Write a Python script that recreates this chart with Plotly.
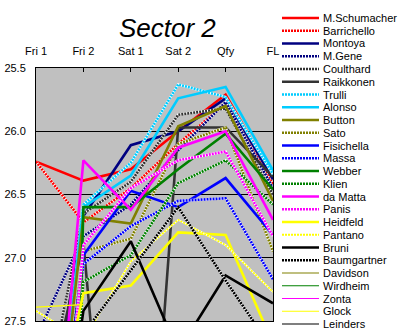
import plotly.graph_objects as go

sessions = ["Fri 1", "Fri 2", "Sat 1", "Sat 2", "Qfy", "FL"]
y_ticks = [25.5, 26.0, 26.5, 27.0, 27.5]

drivers = ["M.Schumacher", "Barrichello", "Montoya", "M.Gene", "Coulthard", "Raikkonen",
           "Trulli", "Alonso", "Button", "Sato", "Fisichella", "Massa", "Webber", "Klien",
           "da Matta", "Panis", "Heidfeld", "Pantano", "Bruni", "Baumgartner",
           "Davidson", "Wirdheim", "Zonta", "Glock", "Leinders"]

m_schumacher = [26.24, 26.39, 26.30, 26.00, 25.71, 26.36]
barrichello = [26.24, 26.72, 26.45, 26.10, 25.78, 26.42]
montoya = [29.0, 26.67, 26.11, 26.00, 25.74, 26.38]
m_gene = [27.63, 26.83, 26.58, 26.15, 25.77, 26.45]
coulthard = [28.5, 26.65, 26.40, 25.87, 25.82, 26.50]
raikkonen = [28.5, 26.88, 31.0, 25.97, 25.97, 26.36]
trulli = [30.0, 26.58, 26.25, 25.63, 25.73, 26.34]
alonso = [30.0, 26.60, 26.35, 25.74, 25.65, 26.31]
button = [30.0, 26.68, 26.73, 25.96, 25.80, 26.55]
sato = [30.0, 26.95, 26.85, 26.10, 25.97, 26.95]
fisichella = [30.0, 26.98, 26.47, 26.60, 26.37, 26.82]
massa = [30.0, 27.05, 26.75, 26.55, 26.53, 27.17]
webber = [40.0, 26.60, 26.60, 26.30, 26.02, 26.46]
klien = [32.0, 27.19, 26.98, 26.41, 26.23, 26.58]
da_matta = [30.3, 26.23, 26.62, 26.13, 26.00, 26.70]
panis = [31.0, 26.90, 26.45, 26.23, 26.16, 26.83]
heidfeld = [29.0, 27.28, 27.22, 26.80, 26.82, 27.68]
pantano = [27.42, 27.65, 27.03, 26.70, 26.90, 27.27]
bruni = [30.0, 27.42, 26.87, 27.74, 27.14, 27.36]
baumgartner = [30.0, 27.60, 27.10, 26.60, 27.18, 27.73]
davidson = [28.0, 28.0, None, None, None, None]
wirdheim = [28.0, 28.0, None, None, None, None]
zonta = [28.0, 28.0, None, None, None, None]
glock = [27.39, 27.37, None, None, None, None]
leinders = [28.0, 28.0, None, None, None, None]

series = [m_schumacher, barrichello, montoya, m_gene, coulthard, raikkonen, trulli, alonso,
          button, sato, fisichella, massa, webber, klien, da_matta, panis, heidfeld, pantano,
          bruni, baumgartner, davidson, wirdheim, zonta, glock, leinders]

# style: (color, kind) kind: 's' thick solid, 'd' thick dotted, 't' thin solid, 'td' thin dotted
styles = [("#FF0000", "s"), ("#FF0000", "d"), ("#000080", "s"), ("#000080", "d"),
          ("#333333", "d"), ("#333333", "s"), ("#00CCFF", "d"), ("#00CCFF", "s"),
          ("#808000", "s"), ("#808000", "d"), ("#0000FF", "s"), ("#0000FF", "d"),
          ("#008000", "s"), ("#008000", "d"), ("#FF00FF", "s"), ("#FF00FF", "d"),
          ("#FFFF00", "s"), ("#FFFF00", "td"), ("#000000", "s"), ("#000000", "d"),
          ("#808000", "t"), ("#008000", "t"), ("#FF00FF", "t"), ("#FFFF00", "t"),
          ("#000000", "t")]
widths = {"s": 2.6, "d": 2.6, "t": 1.2, "td": 1.8}
DOT = "2px,1px"

W, H = 403, 335
L, R, T, B = 36, 273, 68, 321

fig = go.Figure()
for name, vals, (col, kind) in zip(drivers, series, styles):
    w = widths[kind]
    if kind in ("d", "td"):
        fig.add_trace(go.Scatter(x=sessions, y=vals, mode="lines", showlegend=False,
                                 hoverinfo="skip", line=dict(color="white", width=w)))
        fig.add_trace(go.Scatter(x=sessions, y=vals, mode="lines", name=name, showlegend=False,
                                 line=dict(color=col, width=w, dash=DOT)))
    else:
        fig.add_trace(go.Scatter(x=sessions, y=vals, mode="lines", name=name, showlegend=False,
                                 line=dict(color=col, width=w)))

def px_x(px):
    return (px - L) / (R - L)

def px_y(py):
    return 1 - (py - T) / (B - T)

shapes = []
annotations = []
for i, (name, (col, kind)) in enumerate(zip(drivers, styles)):
    yy = 18 + i * 12.75
    w = widths[kind]
    if kind in ("d", "td"):
        shapes.append(dict(type="line", xref="paper", yref="paper", x0=px_x(282), x1=px_x(319),
                           y0=px_y(yy), y1=px_y(yy), line=dict(color="white", width=w)))
        shapes.append(dict(type="line", xref="paper", yref="paper", x0=px_x(282), x1=px_x(319),
                           y0=px_y(yy), y1=px_y(yy), line=dict(color=col, width=w, dash=DOT)))
    else:
        shapes.append(dict(type="line", xref="paper", yref="paper", x0=px_x(282), x1=px_x(319),
                           y0=px_y(yy), y1=px_y(yy), line=dict(color=col, width=w)))
    annotations.append(dict(text=name, xref="paper", yref="paper", x=px_x(321), y=px_y(yy),
                            xanchor="left", yanchor="middle", showarrow=False,
                            font=dict(size=11, color="black", family="Liberation Sans, Arial")))

annotations.append(dict(text="<i>Sector 2</i>", xref="paper", yref="paper", x=px_x(167),
                        y=px_y(28), xanchor="center", yanchor="middle", showarrow=False,
                        font=dict(size=26, color="black", family="Liberation Sans, Arial")))

fig.update_layout(
    width=W, height=H,
    margin=dict(l=L, r=W - R, t=T, b=H - B, pad=0, autoexpand=False),
    paper_bgcolor="white", plot_bgcolor="#C0C0C0",
    font=dict(family="Liberation Sans, Arial", size=11, color="black"),
    shapes=shapes, annotations=annotations,
    xaxis=dict(type="category", range=[0, 5], side="top", showgrid=False,
               ticks="inside", ticklen=4, tickcolor="black", showline=True,
               linecolor="black", linewidth=1, mirror=True, zeroline=False,
               tickfont=dict(size=11), ticklabelstandoff=8, automargin=False),
    yaxis=dict(range=[27.5, 25.5], tickvals=y_ticks, tickformat=".1f", showgrid=True,
               gridcolor="black", gridwidth=1, showline=True, linecolor="black",
               linewidth=1, mirror=True, zeroline=False, ticks="", tickfont=dict(size=11),
               ticklabelstandoff=7, automargin=False),
    showlegend=False,
)

fig.write_html("out.html")
